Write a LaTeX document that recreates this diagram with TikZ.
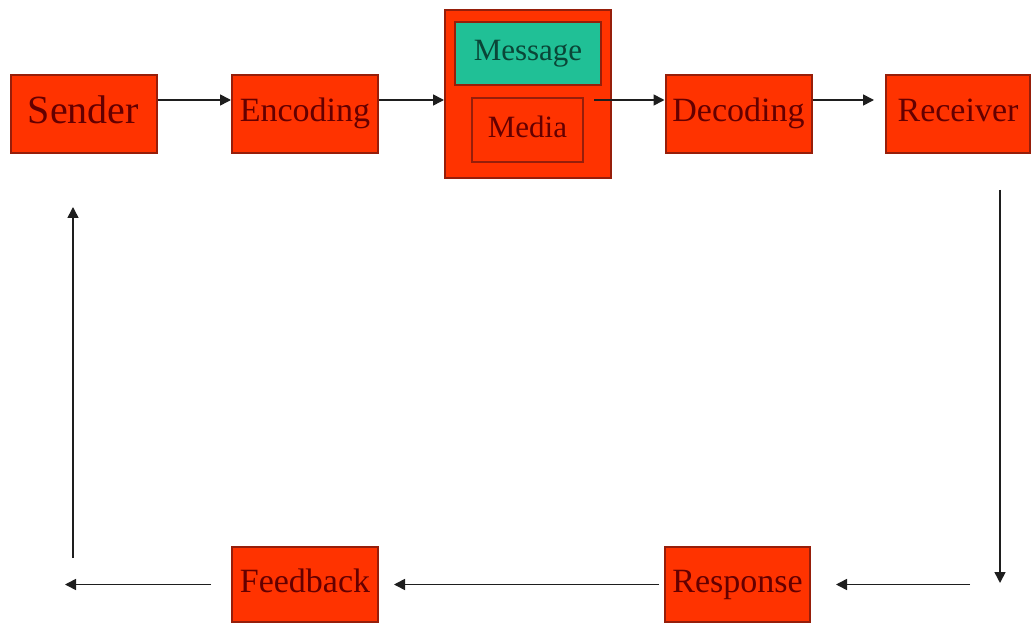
\documentclass[tikz,border=0pt]{standalone}
\usepackage{fontspec}
\setmainfont{Liberation Serif}
\usetikzlibrary{arrows.meta}
\definecolor{boxred}{RGB}{255,51,0}
\definecolor{edgered}{RGB}{150,30,10}
\definecolor{txtred}{RGB}{100,0,0}
\definecolor{msgteal}{RGB}{32,192,150}
\definecolor{txtteal}{RGB}{10,70,55}
\definecolor{linegray}{RGB}{30,30,30}
\begin{document}
\begin{tikzpicture}
      [x = 1pt, y = 1pt,
       stage/.style = {draw = edgered, line width = 2pt, fill = boxred, text = txtred,
         inner sep = 0, minimum width = 146pt, minimum height = 78pt,
         text height = 23pt, text depth = 7pt,
         font = \fontsize{34}{36}\selectfont},
       small/.style = {text height = 21pt, text depth = 6pt,
         font = \fontsize{31}{33}\selectfont},
       flow/.style = {draw = linegray, line width = 1.6pt,
         -{Triangle[length = 11pt, width = 11pt]}}]
      \useasboundingbox (0,0) rectangle (1035,630);
      \node[stage, text height = 27pt, text depth = 8pt,
            font = \fontsize{40}{42}\selectfont] (sender) at (83.5,516) {Sender};
      \node[stage] (encoding) at (305,516) {Encoding};
      \node[stage, minimum width = 166pt, minimum height = 168pt] (channel) at (528,536) {};
      \node[stage, small, fill = msgteal, text = txtteal, minimum height = 63pt] (message) at (528,576.5) {Message};
      \node[stage, small, minimum width = 111pt, minimum height = 64pt] (media) at (527.5,500) {Media};
      \node[stage] (decoding) at (738.5,516) {Decoding};
      \node[stage, minimum width = 144pt] (receiver) at (958,516) {Receiver};
      \node[stage, minimum height = 75pt] (feedback) at (305,45.5) {Feedback};
      \node[stage, minimum width = 145pt, minimum height = 75pt] (response) at (737.5,45.5) {Response};
      \coordinate (rtop) at (1000,440);
      \coordinate (rbot) at (1000,47);
      \coordinate (rright) at (970,45.5);
      \coordinate (lleft) at (65,45.5);
      \coordinate (lbot) at (73,72);
      \coordinate (ltop) at (73,423);
      % top row
      \draw[flow] ([yshift = 14pt]sender.east) -- ([yshift = 14pt]encoding.west);
      \draw[flow] ([yshift = 14pt]encoding.east) -- ([yshift = 14pt]channel.west |- encoding.east);
      \draw[flow] ([xshift = -18pt, yshift = 14pt]channel.east |- decoding.east) -- ([yshift = 14pt]decoding.west);
      \draw[flow] ([yshift = 14pt]decoding.east) -- ([xshift = -11pt, yshift = 14pt]receiver.west);
      % loop back
      \draw[flow] (rtop) -- (rbot);
      \draw[flow] (rright) -- ([xshift = 25pt]response.east);
      \draw[flow] ([xshift = -5pt]response.west) -- ([xshift = 15pt]feedback.east);
      \draw[flow] ([xshift = -20pt]feedback.west) -- (lleft);
      \draw[flow] (lbot) -- (ltop);
    \end{tikzpicture}
\end{document}
